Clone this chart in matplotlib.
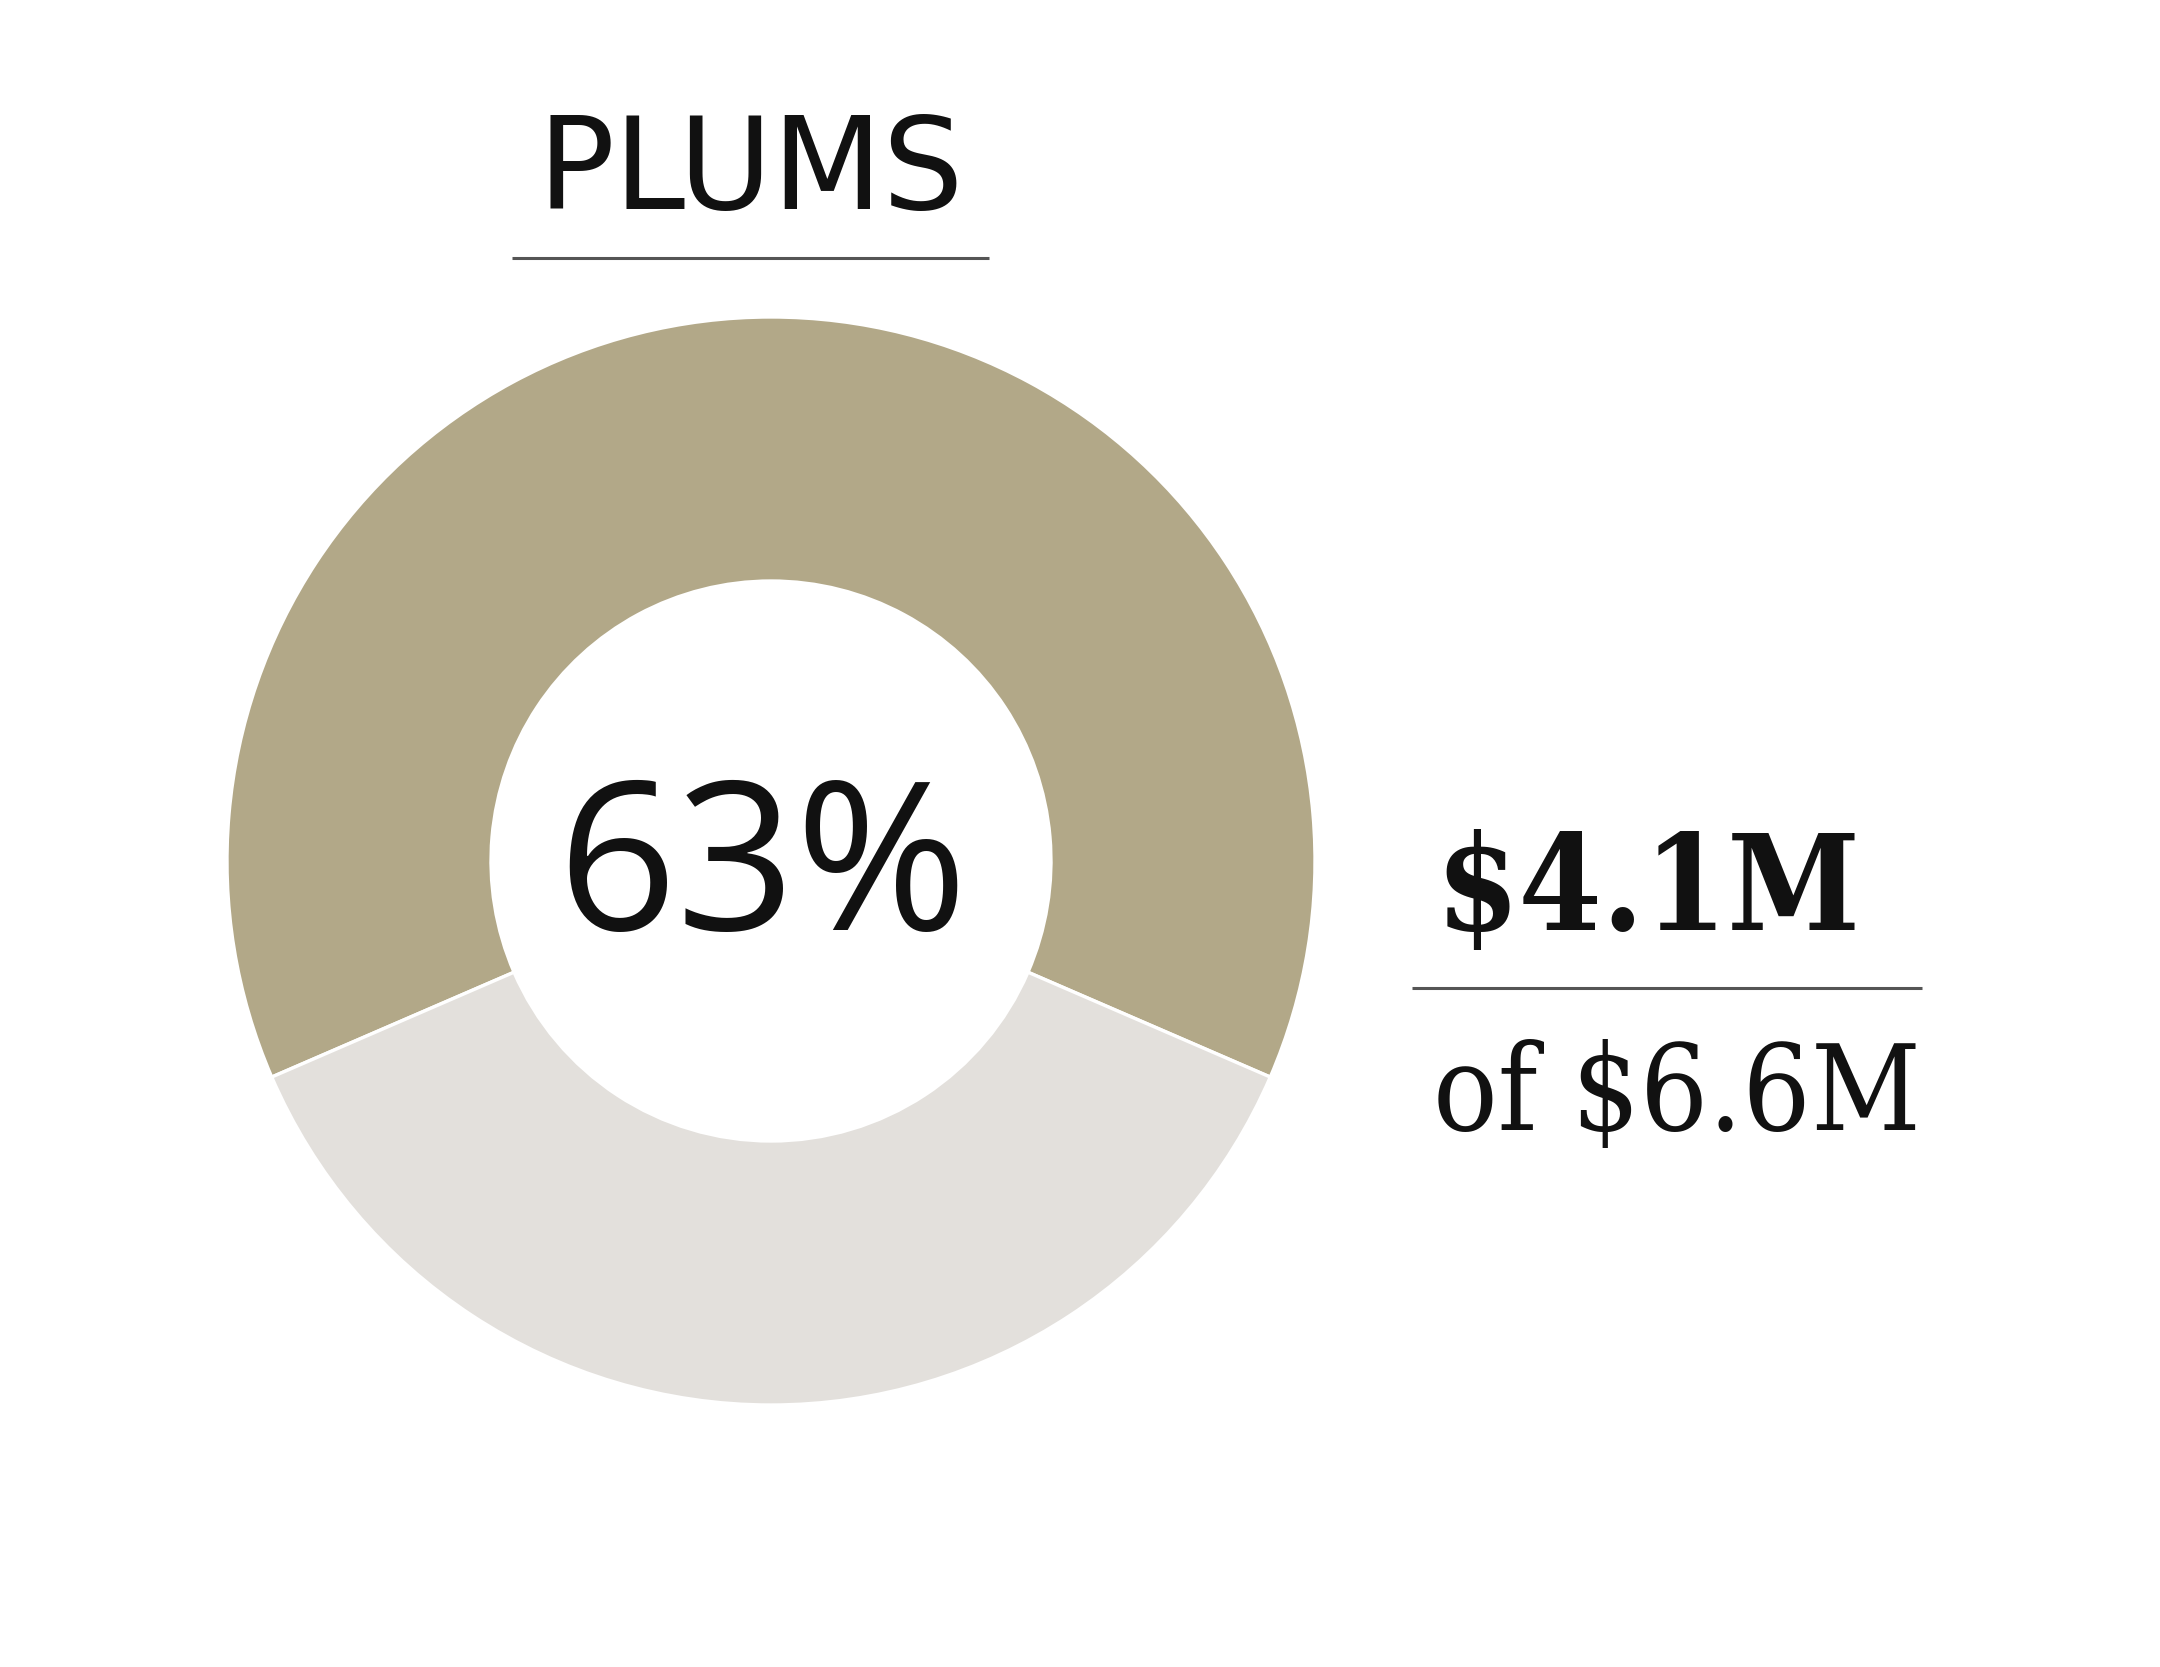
import matplotlib
matplotlib.use('Agg')
from matplotlib import pyplot as plt

# data
category = 'PLUMS'
shares = [63, 37]
share_label = '63%'
amount_label = '$4.1M'
total_label = 'of $6.6M'
colors = ['#B2A888', '#E3E0DC']

W, H = 2160, 1667
DPI = 200

fig = plt.figure(figsize=(W / DPI, H / DPI), dpi=DPI)
ax = fig.add_axes([0, 0, 1, 1])

# donut (pixel coords, y from bottom)
cx, cy = 771, H - 861
r_out, r_in = 544, 280
start = 90 - shares[0] / sum(shares) * 360 / 2
ax.pie(shares, colors=colors, startangle=start, counterclock=True,
       center=(cx, cy), radius=r_out,
       wedgeprops=dict(width=r_out - r_in, edgecolor='white', linewidth=1.2))

ax.set_xlim(0, W)
ax.set_ylim(0, H)
ax.set_aspect('equal')
ax.axis('off')

serif = ['DejaVu Serif']

# title and rule
ax.text(751, H - 209, category, ha='center', va='baseline',
        fontsize=46, family=['DejaVu Sans'], color='#111111')
ax.plot([512, 989], [H - 258, H - 258], color='#555555', lw=1.1,
        solid_capstyle='butt')

# center percentage
ax.text(cx - 8, H - 930, share_label, ha='center', va='baseline',
        fontsize=75, family=['Open Sans', 'DejaVu Sans'], color='#111111')

# amount / total
ax.text(1435, H - 930, amount_label, ha='left', va='baseline',
        fontsize=48, family=serif, fontweight='bold', fontstretch='condensed',
        color='#111111')
ax.plot([1412, 1922], [H - 988, H - 988], color='#555555', lw=1.1,
        solid_capstyle='butt')
ax.text(1433, H - 1130, total_label, ha='left', va='baseline',
        fontsize=43, family=serif, fontstretch='condensed', color='#111111')

plt.savefig('out.png', dpi=DPI, facecolor='white')
plt.close()
